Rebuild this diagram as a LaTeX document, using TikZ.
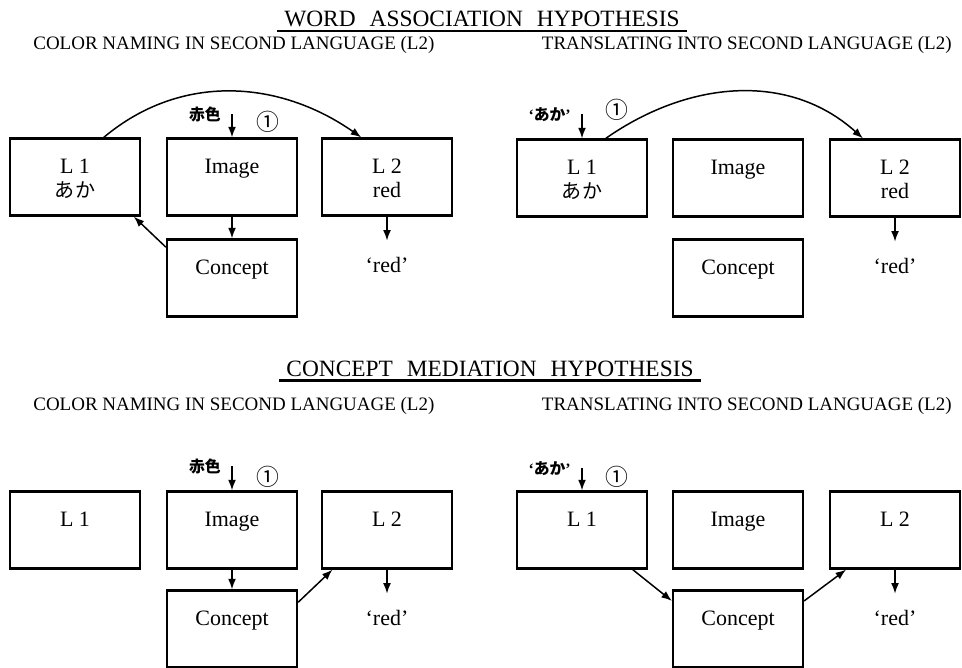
\documentclass[tikz,border=0pt]{standalone}
\usepackage{fontspec}
\setmainfont{Liberation Serif}
\newfontfamily\jfont{Noto Sans CJK JP}
\usetikzlibrary{arrows.meta, positioning}

\tikzset{
  box/.style={draw, line width=1.3pt, minimum width=2.6cm, inner sep=0pt,
    text height=0.7cm, text depth=0.84cm, align=center,
    font=\fontsize{12.5}{13.6}\selectfont},
  box2/.style={box, text height=1.18cm, text depth=0.36cm},
  arr/.style={-{Latex[length=6pt,width=4.5pt]}, line width=0.85pt},
  word/.style={inner xsep=1pt, inner ysep=9pt, font=\fontsize{12.5}{14}\selectfont},
  src/.style={inner sep=0pt, font=\bfseries\fontsize{9}{10}\selectfont},
  stepno/.style={inner sep=0pt, font=\jfont\fontsize{13}{14}\selectfont},
  hyp/.style={inner xsep=4pt, inner ysep=2.3pt, text depth=0pt, font=\fontsize{13.3}{15}\selectfont},
  task/.style={inner sep=0pt, font=\fontsize{10.8}{13}\selectfont},
}
\newcommand{\ja}[1]{{\jfont\fontsize{11.4}{13.6}\selectfont #1}}
\newcommand{\gap}{\hspace{0.6em}}

\begin{document}
\begin{tikzpicture}[x=0.02cm, y=-0.02cm]
\useasboundingbox (0,0) rectangle (962,668);

% word association hypothesis
\node[hyp] (wtitle) at (482,19) {WORD\gap ASSOCIATION\gap HYPOTHESIS};
\draw[line width=1.4pt] (wtitle.south west) -- (wtitle.south east);
\node[task, anchor=west] (wtask1) at (33,45) {COLOR NAMING IN SECOND LANGUAGE (L2)};
\node[task, anchor=east] (wtask2) at (952,45) {TRANSLATING INTO SECOND LANGUAGE (L2)};

% color naming, word association
\node[box2] (wl1) at (75,177) {L 1\\\ja{あか}};
\node[box] (wimg) at (232,177) {Image};
\node[box2] (wl2) at (387,177) {L 2\\red};
\node[box] (wcon) at (232,278) {Concept};
\node[word, below=0.48cm of wl2] (wred) {‘red’};
\coordinate[above=0.46cm of wimg] (wsrc);
\node[src, left=0.22cm of wsrc] {\jfont 赤色};
\node[stepno] at (268,122) {①};
\draw[arr] (wsrc) -- (wimg);
\draw[arr] (wimg) -- (wcon);
\draw[arr] (wcon.155) -- (wl1.-34);
\draw[arr] (wl1.54) to[out=40,in=145] (wl2.123);
\draw[arr] (wl2) -- (wred);

% translating, word association
\node[box2] (tl1) at (582,178) {L 1\\\ja{あか}};
\node[box] (timg) at (738,178) {Image};
\node[box2] (tl2) at (895,178) {L 2\\red};
\node[box] (tcon) at (738,278) {Concept};
\node[word, below=0.48cm of tl2] (tred) {‘red’};
\coordinate[above=0.48cm of tl1] (tsrc);
\node[src, left=0.22cm of tsrc] {‘{\jfont あか}’};
\node[stepno] at (617,110) {①};
\draw[arr] (tsrc) -- (tl1);
\draw[arr] (tl1.59) to[out=35,in=138] (tl2.129);
\draw[arr] (tl2) -- (tred);

% concept mediation hypothesis
\node[hyp] (ctitle) at (490,368.5) {CONCEPT\gap MEDIATION\gap HYPOTHESIS};
\draw[line width=1.4pt] (ctitle.south west) -- (ctitle.south east);
\node[task, anchor=west] (ctask1) at (33,406) {COLOR NAMING IN SECOND LANGUAGE (L2)};
\node[task, anchor=east] (ctask2) at (952,406) {TRANSLATING INTO SECOND LANGUAGE (L2)};

% color naming, concept mediation
\node[box] (cl1) at (75,530) {L 1};
\node[box] (cimg) at (232,530) {Image};
\node[box] (cl2) at (387,530) {L 2};
\node[box] (ccon) at (232,629) {Concept};
\node[word, below=0.48cm of cl2] (cred) {‘red’};
\coordinate[above=0.48cm of cimg] (csrc);
\node[src, left=0.22cm of csrc] {\jfont 赤色};
\node[stepno] at (268,477) {①};
\draw[arr] (csrc) -- (cimg);
\draw[arr] (cimg) -- (ccon);
\draw[arr] (ccon.22) -- (cl2.-144);
\draw[arr] (cl2) -- (cred);

% translating, concept mediation
\node[box] (ml1) at (582,530) {L 1};
\node[box] (mimg) at (738,530) {Image};
\node[box] (ml2) at (895,530) {L 2};
\node[box] (mcon) at (738,629) {Concept};
\node[word, below=0.48cm of ml2] (mred) {‘red’};
\coordinate[above=0.44cm of ml1] (msrc);
\node[src, left=0.22cm of msrc] {‘{\jfont あか}’};
\node[stepno] at (617,477) {①};
\draw[arr] (msrc) -- (ml1);
\draw[arr] (ml1.-38) -- (mcon.157);
\draw[arr] (mcon.23) -- (ml2.-141);
\draw[arr] (ml2) -- (mred);

\end{tikzpicture}
\end{document}
